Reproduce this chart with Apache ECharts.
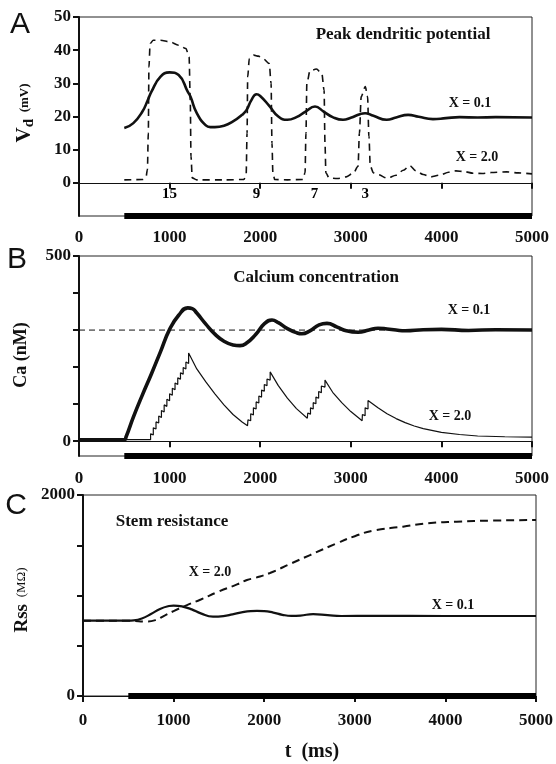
<!DOCTYPE html>
<html><head><meta charset="utf-8">
<script src="https://cdn.jsdelivr.net/npm/echarts@6/dist/echarts.min.js"></script>
<style>html,body{margin:0;padding:0;background:#fff}#c{width:556px;height:764px}</style>
</head><body><div id="c"></div>
<script>
// ---- Data ----
const xTicks = [0, 1000, 2000, 3000, 4000, 5000];
const stimulus = [500, 5000];

// Panel A: peak dendritic potential
const aTicks = [0, 10, 20, 30, 40, 50];
const aX01 = [[500,16.5],[600,18],[700,21.5],[760,25],[800,27.5],[900,32],[1000,33.3],[1100,32.5],[1200,27.5],[1230,26],[1300,21],[1400,17.3],[1450,16.8],[1500,16.8],[1600,17.2],[1700,18.5],[1800,20.5],[1850,22],[1900,24.8],[1960,26.7],[2000,26.2],[2100,23.2],[2200,20],[2300,19],[2400,19.8],[2500,21.5],[2605,23],[2700,21.5],[2800,19.8],[2914,19],[3000,19.6],[3100,20.7],[3157,21],[3250,20.2],[3396,19],[3500,19.7],[3633,20.5],[3750,19.9],[3907,19.2],[4050,19.5],[4200,19.8],[4400,19.7],[4600,19.8],[5000,19.7]];
const aX20 = [[500,0.9],[700,1],[740,1.8],[755,4],[765,15],[772,35],[785,42],[820,43],[900,43],[1000,42.5],[1100,41.5],[1180,40.5],[1215,38],[1228,25],[1236,8],[1250,1.5],[1300,0.9],[1600,0.9],[1820,1],[1845,2.5],[1855,15],[1862,32],[1880,37.5],[1930,38.5],[1980,38.2],[2030,37.5],[2100,36],[2120,30],[2130,12],[2140,3],[2160,1],[2300,0.9],[2470,1],[2495,3],[2505,15],[2515,30],[2550,33.8],[2620,34.3],[2680,33],[2705,28],[2715,12],[2725,3],[2760,1.5],[2850,1.3],[2950,1.8],[3030,3],[3080,5],[3095,15],[3115,26],[3160,29],[3185,26],[3200,14],[3215,5],[3250,3],[3300,2.5],[3400,1.4],[3500,2.3],[3580,3.8],[3650,5.2],[3720,3.6],[3800,2.5],[3880,1.8],[3980,2.3],[4080,3.2],[4160,3.6],[4250,3.4],[4350,2.9],[4450,2.8],[4550,3.1],[4720,3.3],[4850,3],[5000,2.7]];
const aPulseLabels = [[1000,'15'],[1960,'9'],[2600,'7'],[3160,'3']];

// Panel B: calcium concentration
const bTicks = [0, 100, 200, 300, 400, 500];
const bLabels = [0, 500];
const bRef = 300;
const bX01 = [[0,4],[500,4],[520,12],[600,65],[700,125],[800,182],[900,242],[1000,302],[1100,340],[1200,360],[1250,358],[1300,346],[1400,316],[1500,289],[1600,270],[1700,260],[1777,258],[1850,265],[1950,288],[2050,318],[2130,327],[2200,320],[2300,304],[2400,293],[2460,290],[2550,298],[2650,314],[2737,318],[2850,308],[2950,298],[3080,294],[3200,300],[3300,305],[3400,303],[3500,300],[3600,298],[3800,301],[4000,302],[4300,299],[4600,301],[5000,300]];
const bX20 = [[0,4],[790,4],[790,20],[820,17],[820,36],[850,33],[850,52],[880,49],[880,68],[910,64],[910,83],[940,79],[940,98],[970,94],[970,113],[1000,109],[1000,128],[1030,124],[1030,143],[1060,139],[1060,157],[1090,153],[1090,171],[1120,167],[1120,185],[1150,181],[1150,199],[1180,195],[1180,214],[1210,210],[1210,238],[1300,195],[1400,160],[1500,128],[1600,98],[1700,72],[1800,52],[1860,42],[1865,58],[1895,55],[1895,74],[1925,71],[1925,90],[1955,87],[1955,106],[1985,103],[1985,122],[2015,119],[2015,138],[2045,135],[2045,153],[2075,150],[2075,168],[2110,165],[2110,187],[2200,150],[2300,116],[2400,88],[2520,62],[2525,76],[2555,73],[2555,90],[2585,87],[2585,104],[2615,101],[2615,119],[2645,116],[2645,134],[2675,131],[2675,149],[2715,146],[2715,165],[2800,132],[2900,104],[3000,80],[3125,55],[3128,72],[3158,69],[3158,90],[3190,87],[3190,110],[3300,90],[3400,74],[3500,61],[3600,50],[3700,41],[3800,34],[4000,24],[4200,18],[4400,14],[4700,12],[5000,11]];

// Panel C: stem resistance
const cTicks = [0, 500, 1000, 1500, 2000];
const cLabels = [0, 2000];
const cX01 = [[0,750],[500,750],[560,753],[650,772],[750,815],[850,866],[950,895],[1000,900],[1100,890],[1200,862],[1300,822],[1435,790],[1550,795],[1650,812],[1750,832],[1850,845],[1920,847],[2000,845],[2100,830],[2200,808],[2300,797],[2400,800],[2540,815],[2700,805],[2850,796],[3200,797],[4000,796],[5000,796]];
const cX20 = [[0,750],[500,750],[550,748],[700,740],[800,755],[900,800],[1000,845],[1148,905],[1300,960],[1500,1040],[1700,1110],[1810,1154],[1900,1175],[2064,1224],[2300,1320],[2500,1400],[2800,1519],[3000,1590],[3200,1645],[3532,1685],[3800,1718],[4125,1735],[4500,1745],[5000,1751]];

// ---- Chart ----
const FONT = 'Liberation Serif';
const chart = echarts.init(document.getElementById('c'), null, {renderer: 'canvas'});
const grids = [
  {left: 79, right: 24, top: 17, height: 199},
  {left: 79, right: 24, top: 256, height: 200},
  {left: 83, right: 20, top: 495, height: 201}
];
const lab = {fontFamily: FONT, fontWeight: 'bold', fontSize: 17, color: '#111', formatter: v => String(v)};
function xAxis(i, margin) {
  return {type: 'value', gridIndex: i, min: 0, max: 5000, interval: 1000,
    axisLine: {show: true, lineStyle: {color: '#111', width: 1.2}},
    axisTick: {show: true, inside: false, length: 6, customValues: xTicks, lineStyle: {color: '#111', width: 2}},
    axisLabel: Object.assign({}, lab, {margin: margin, customValues: xTicks}),
    splitLine: {show: false}};
}
function yAxis(i, min, max, ticks, labels) {
  return {type: 'value', gridIndex: i, min: min, max: max,
    axisLine: {show: true, lineStyle: {color: '#111', width: 2}},
    axisTick: {show: true, length: 6, customValues: ticks, lineStyle: {color: '#111', width: 2}},
    axisLabel: Object.assign({}, lab, {margin: 8, customValues: labels}),
    splitLine: {show: false}};
}
function line(xi, data, opts) {
  return Object.assign({type: 'line', xAxisIndex: xi, yAxisIndex: xi, data: data, symbol: 'none',
    silent: true, animation: false}, opts);
}
function txt(x, y, text, size, extra) {
  return Object.assign({type: 'text', x: x, y: y, silent: true,
    style: {text: text, fontFamily: FONT, fontWeight: 'bold', fontSize: size, fill: '#111', align: 'center', verticalAlign: 'middle'}}, extra || {});
}
function stim(i, y) {
  return line(i, [[stimulus[0], y], [stimulus[1], y]], {lineStyle: {color: '#000', width: 6}, clip: false, z: 5});
}
const graphics = [
  {type: 'text', x: 20, y: 25, style: {text: 'A', fontFamily: 'Liberation Sans', fontSize: 30, fill: '#111', align: 'center', verticalAlign: 'middle'}},
  {type: 'text', x: 17, y: 260, style: {text: 'B', fontFamily: 'Liberation Sans', fontSize: 30, fill: '#111', align: 'center', verticalAlign: 'middle'}},
  {type: 'text', x: 16, y: 506, style: {text: 'C', fontFamily: 'Liberation Sans', fontSize: 30, fill: '#111', align: 'center', verticalAlign: 'middle'}},
  txt(403, 35, 'Peak dendritic potential', 17),
  txt(470, 103, 'X = 0.1', 14),
  txt(477, 157, 'X = 2.0', 14),
  txt(316, 278, 'Calcium concentration', 17),
  txt(469, 310, 'X = 0.1', 14),
  txt(450, 416, 'X = 2.0', 14),
  txt(172, 522, 'Stem resistance', 17),
  txt(210, 572, 'X = 2.0', 14),
  txt(453, 605, 'X = 0.1', 14),
  txt(312, 752, 't  (ms)', 20),
  {type: 'text', x: 25, y: 113, rotation: Math.PI / 2, silent: true,
    style: {text: '{v|V}{d|d}  {u|(mV)}', align: 'center', verticalAlign: 'middle', fill: '#111',
      rich: {v: {fontFamily: FONT, fontWeight: 'bold', fontSize: 21, fill: '#111'},
             d: {fontFamily: FONT, fontWeight: 'bold', fontSize: 15, fill: '#111', verticalAlign: 'bottom', padding: [8, 0, 0, 0]},
             u: {fontFamily: FONT, fontWeight: 'bold', fontSize: 13, fill: '#111'}}}},
  {type: 'text', x: 21, y: 355, rotation: Math.PI / 2, silent: true,
    style: {text: 'Ca (nM)', fontFamily: FONT, fontWeight: 'bold', fontSize: 18, fill: '#111', align: 'center', verticalAlign: 'middle'}},
  {type: 'text', x: 22, y: 600, rotation: Math.PI / 2, silent: true,
    style: {text: '{r|Rss}  {u|(MΩ)}', align: 'center', verticalAlign: 'middle', fill: '#111',
      rich: {r: {fontFamily: FONT, fontWeight: 'bold', fontSize: 19, fill: '#111'},
             u: {fontFamily: FONT, fontSize: 13, fill: '#111'}}}}
];

const option = {
  animation: false,
  backgroundColor: '#fff',
  grid: grids.map(g => Object.assign({show: true, borderColor: '#222', borderWidth: 1, backgroundColor: 'transparent'}, g)),
  xAxis: [xAxis(0, 13), xAxis(1, 14), xAxis(2, 16)],
  yAxis: [
    yAxis(0, -10, 50, aTicks, aTicks),
    yAxis(1, -40, 500, bTicks, bLabels),
    yAxis(2, 0, 2000, cTicks, cLabels)
  ],
  series: [
    line(0, aX01, {smooth: 0.5, lineStyle: {color: '#111', width: 2.6}}),
    line(0, aX20, {smooth: 0.3, smoothMonotone: 'x', lineStyle: {color: '#111', width: 1.6, type: [7, 5]}}),
    {type: 'scatter', xAxisIndex: 0, yAxisIndex: 0, silent: true, symbol: 'circle', symbolSize: 2,
      itemStyle: {color: 'rgba(0,0,0,0)'}, data: aPulseLabels.map(p => [p[0], -3.5, p[1]]),
      label: {show: true, position: 'inside', formatter: p => p.value[2], opacity: 1,
        textBorderWidth: 0, textShadowBlur: 0,
        fontFamily: FONT, fontWeight: 'bold', fontSize: 15, color: '#000'}},
    stim(0, -10),
    line(1, [[0, bRef], [5000, bRef]], {lineStyle: {color: '#111', width: 1, type: [6, 4]}}),
    line(1, bX01, {smooth: 0.5, lineStyle: {color: '#111', width: 3.6}}),
    line(1, bX20, {lineStyle: {color: '#111', width: 1.2}}),
    stim(1, -40),
    line(2, cX01, {smooth: 0.5, lineStyle: {color: '#111', width: 2.2}}),
    line(2, cX20, {smooth: 0.5, lineStyle: {color: '#111', width: 2, type: [8, 5]}}),
    stim(2, 0)
  ],
  graphic: graphics
};
chart.setOption(option);
</script></body></html>
